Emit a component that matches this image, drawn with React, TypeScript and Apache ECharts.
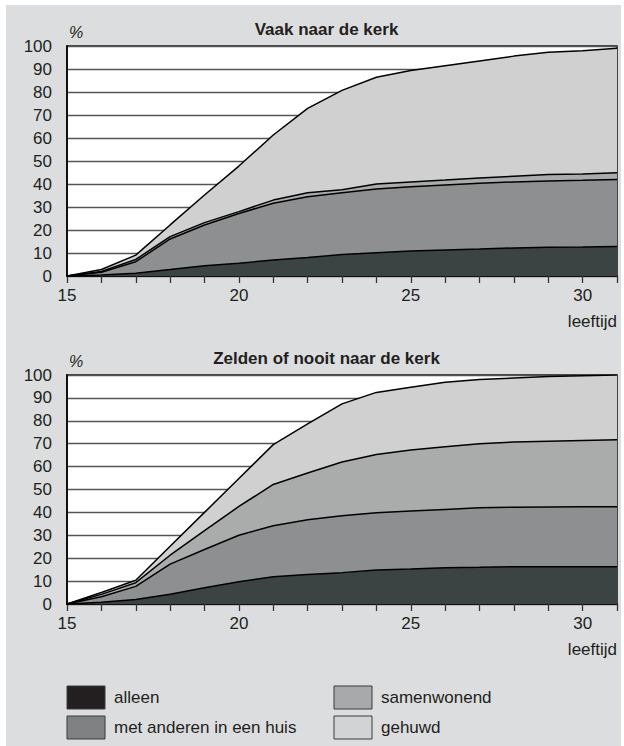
import React, { useEffect, useRef } from "react";
import * as echarts from "echarts";

// Ages (x axis)
const ages = ["15", "16", "17", "18", "19", "20", "21", "22", "23", "24", "25", "26", "27", "28", "29", "30", "31"];
const xLabelTicks = ["15", "20", "25", "30"];

const seriesNames = ["alleen", "met anderen in een huis", "samenwonend", "gehuwd"];

// "Vaak naar de kerk" — share per living situation (%), stacked
const vaakAlleen = [0, 0.4, 1.2, 2.8, 4.5, 5.5, 7.0, 8.0, 9.3, 10.1, 10.9, 11.3, 11.7, 12.2, 12.5, 12.6, 12.8];
const vaakMetAnderen = [0, 1.2, 5.0, 13.3, 17.7, 21.7, 24.6, 26.5, 26.9, 27.7, 27.9, 28.3, 28.6, 28.7, 28.8, 29.0, 29.2];
const vaakSamenwonend = [0, 0.4, 1.0, 1.0, 1.0, 0.8, 1.4, 1.7, 1.3, 2.2, 2.1, 2.1, 2.3, 2.5, 2.8, 2.8, 2.9];
const vaakGehuwd = [0, 0.8, 1.9, 5.1, 12.0, 19.8, 28.3, 36.7, 43.2, 46.4, 48.4, 49.7, 50.9, 52.2, 53.2, 53.5, 54.1];

// "Zelden of nooit naar de kerk"
const zeldenAlleen = [0, 0.8, 2.0, 4.3, 7.1, 9.7, 11.9, 12.9, 13.7, 14.9, 15.3, 15.8, 16.0, 16.3, 16.3, 16.3, 16.3];
const zeldenMetAnderen = [0, 2.4, 5.7, 13.1, 16.7, 20.3, 22.3, 23.9, 24.8, 24.9, 25.3, 25.5, 26.0, 26.0, 26.1, 26.2, 26.2];
const zeldenSamenwonend = [0, 1.0, 1.6, 3.9, 8.2, 12.6, 18.0, 20.4, 23.5, 25.5, 26.7, 27.4, 28.0, 28.4, 28.7, 28.9, 29.2];
const zeldenGehuwd = [0, 0.8, 1.1, 3.9, 8.0, 12.2, 17.4, 21.5, 25.4, 27.1, 27.3, 28.1, 28.0, 28.0, 28.2, 28.3, 28.3];

const panelTitles = ["Vaak naar de kerk", "Zelden of nooit naar de kerk"];
const yUnit = "%";
const xName = "leeftijd";

const areaColors = ["#3b4443", "#8e8f91", "#aaabab", "#d0d0d0"];
const legendColors = ["#231f20", "#808183", "#a7a9ab", "#d1d3d4"];
const textColor = "#231f20";
const font = "'Liberation Sans', Arial, Helvetica, sans-serif";

export default function App() {
  const ref = useRef<HTMLDivElement>(null);

  useEffect(() => {
    if (!ref.current) return;
    const chart = echarts.init(ref.current, undefined, { renderer: "svg" });

    const panels = [
      [vaakAlleen, vaakMetAnderen, vaakSamenwonend, vaakGehuwd],
      [zeldenAlleen, zeldenMetAnderen, zeldenSamenwonend, zeldenGehuwd],
    ];
    const grids = [
      { left: 67, width: 550, top: 46, height: 230 },
      { left: 67, width: 550, top: 375, height: 229 },
    ];

    const series: any[] = [];
    panels.forEach((vals, g) => {
      vals.forEach((arr, k) => {
        series.push({
          type: "line",
          name: seriesNames[k],
          xAxisIndex: g,
          yAxisIndex: g,
          stack: "area" + g,
          data: arr,
          symbol: "none",
          silent: true,
          lineStyle: { width: 0 },
          itemStyle: { color: areaColors[k] },
          areaStyle: { color: areaColors[k], opacity: 1 },
          z: 2,
        });
      });
      vals.forEach((arr, k) => {
        series.push({
          type: "line",
          xAxisIndex: g,
          yAxisIndex: g,
          stack: "line" + g,
          data: arr,
          symbol: "none",
          silent: true,
          lineStyle: { color: "#000", width: 1.5 },
          itemStyle: { color: "#000" },
          z: 3,
        });
      });
    });

    const graphic: any[] = [];
    grids.forEach((gr, g) => {
      graphic.push({
        type: "text",
        x: 326.5,
        y: gr.top - 17,
        style: {
          text: panelTitles[g],
          font: `bold 17px ${font}`,
          fill: textColor,
          textAlign: "center",
          textVerticalAlign: "middle",
        },
      });
      graphic.push({
        type: "text",
        x: 76,
        y: gr.top - 14,
        style: {
          text: yUnit,
          font: `italic 16px ${font}`,
          fill: textColor,
          textAlign: "center",
          textVerticalAlign: "middle",
        },
      });
      graphic.push({
        type: "text",
        x: 617,
        y: gr.top + gr.height + 45,
        style: {
          text: xName,
          font: `17px ${font}`,
          fill: textColor,
          textAlign: "right",
          textVerticalAlign: "middle",
        },
      });
    });

    const legendPos = [
      [67, 686],
      [67, 716],
      [334, 686],
      [334, 716],
    ];
    seriesNames.forEach((name, k) => {
      const [lx, ly] = legendPos[k];
      graphic.push({
        type: "rect",
        shape: { x: lx, y: ly, width: 38, height: 23 },
        style: { fill: legendColors[k], stroke: "#3a3a3a", lineWidth: 1 },
      });
      graphic.push({
        type: "text",
        x: lx + 47,
        y: ly + 11.5,
        style: {
          text: name,
          font: `17px ${font}`,
          fill: textColor,
          textVerticalAlign: "middle",
        },
      });
    });

    chart.setOption({
      animation: false,
      backgroundColor: "transparent",
      textStyle: { fontFamily: font },
      grid: grids.map((gr) => ({
        ...gr,
        show: true,
        backgroundColor: "#ffffff",
        borderColor: "#111",
        borderWidth: 1.5,
      })),
      xAxis: grids.map((_, g) => ({
        gridIndex: g,
        type: "category",
        data: ages,
        boundaryGap: false,
        axisLine: { show: true, onZero: false, lineStyle: { color: "#111", width: 1.8 } },
        axisTick: { show: true, interval: 0, length: 7, lineStyle: { color: "#333", width: 1.3 } },
        axisLabel: {
          fontSize: 17,
          color: textColor,
          fontFamily: font,
          margin: 11,
          interval: (_i: number, v: string) => xLabelTicks.includes(v),
        },
        splitLine: { show: false },
      })),
      yAxis: grids.map((_, g) => ({
        gridIndex: g,
        type: "value",
        min: 0,
        max: 100,
        interval: 10,
        axisLine: { show: true, lineStyle: { color: "#111", width: 2 } },
        axisTick: { show: false },
        axisLabel: { fontSize: 17, color: textColor, fontFamily: font, margin: 15 },
        splitLine: { show: true, lineStyle: { color: "#555", width: 1.3 } },
      })),
      series,
      graphic,
    });

    return () => chart.dispose();
  }, []);

  return (
    <div style={{ position: "absolute", left: 0, top: 0, width: 624, height: 746, background: "#fff" }}>
      <div
        style={{
          position: "absolute",
          left: 6,
          top: 5,
          width: 615,
          height: 741,
          background: "#dcdddf",
        }}
      />
      <div ref={ref} style={{ position: "absolute", left: 0, top: 0, width: 624, height: 746 }} />
    </div>
  );
}
